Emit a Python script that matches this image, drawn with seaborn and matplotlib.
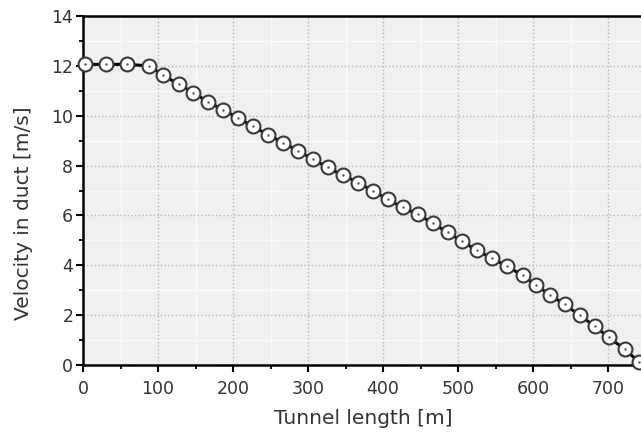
import matplotlib
matplotlib.use('Agg')
import matplotlib.pyplot as plt
from matplotlib.ticker import MultipleLocator
import numpy as np
import pandas as pd
import seaborn as sns


# values
tunnel_length = [3, 30, 59, 88, 107, 128, 147, 167, 187, 207, 226, 247, 267, 287,
                 307, 326, 346, 367, 386, 406, 426, 447, 466, 486, 505, 525, 545,
                 565, 586, 604, 623, 642, 662, 682, 701, 722, 741]
velocity = [12.06, 12.06, 12.06, 12.0, 11.62, 11.26, 10.92, 10.55, 10.23, 9.91,
            9.57, 9.24, 8.91, 8.59, 8.25, 7.93, 7.61, 7.32, 6.99, 6.65, 6.32,
            6.04, 5.69, 5.32, 4.97, 4.6, 4.29, 3.96, 3.6, 3.2, 2.81, 2.43, 2.0,
            1.56, 1.11, 0.64, 0.13]

df = pd.DataFrame({'length': tunnel_length, 'velocity': velocity})

sns.set_style('ticks')
plt.rcParams['font.family'] = ['DejaVu Sans']

fig = plt.figure(figsize=(6.41, 4.36), dpi=100)
ax = fig.add_axes([83 / 641, 71 / 436, 558 / 641, 349 / 436])
ax.set_facecolor('#f0f0f0')

# line with hollow circle markers
sns.lineplot(data=df, x='length', y='velocity', ax=ax, color='black', linewidth=2.2,
             marker='o', markersize=10, markerfacecolor='white',
             markeredgecolor='#3a3a3a', markeredgewidth=1.5, clip_on=False, zorder=3)
# small dot in the middle of each marker
sns.scatterplot(data=df, x='length', y='velocity', ax=ax, color='#555555', s=3,
                linewidth=0, zorder=4, clip_on=False)

ax.set_xlim(0, 744)
ax.set_ylim(0, 14)
ax.xaxis.set_major_locator(MultipleLocator(100))
ax.xaxis.set_minor_locator(MultipleLocator(50))
ax.yaxis.set_major_locator(MultipleLocator(2))
ax.yaxis.set_minor_locator(MultipleLocator(1))

ax.grid(which='minor', color='#fbfbfb', linestyle='-', linewidth=1)
ax.grid(which='major', color='#b5b5b5', linestyle=':', linewidth=1)
ax.set_axisbelow(True)

for side in ['left', 'bottom', 'top']:
    ax.spines[side].set_color('black')
    ax.spines[side].set_linewidth(1.8)
ax.spines['right'].set_visible(False)

ax.tick_params(which='major', direction='out', length=5, width=1.5, colors='black',
               labelsize=12.5, labelcolor='#333333')
ax.tick_params(axis='x', which='major', pad=6)
ax.tick_params(axis='y', which='major', pad=2)
ax.tick_params(which='minor', direction='out', length=3, width=1.3, colors='black')

ax.set_xlabel('Tunnel length [m]', fontsize=14.5, color='#333333')
ax.set_ylabel('Velocity in duct [m/s]', fontsize=14.5, color='#333333')
ax.xaxis.label.set(va='center', ha='center')
ax.yaxis.label.set(va='center', ha='center', rotation_mode='default')
ax.xaxis.set_label_coords(0.503, -0.152)
ax.yaxis.set_label_coords(-0.107, 0.436)

fig.savefig('out.png', dpi=100)
